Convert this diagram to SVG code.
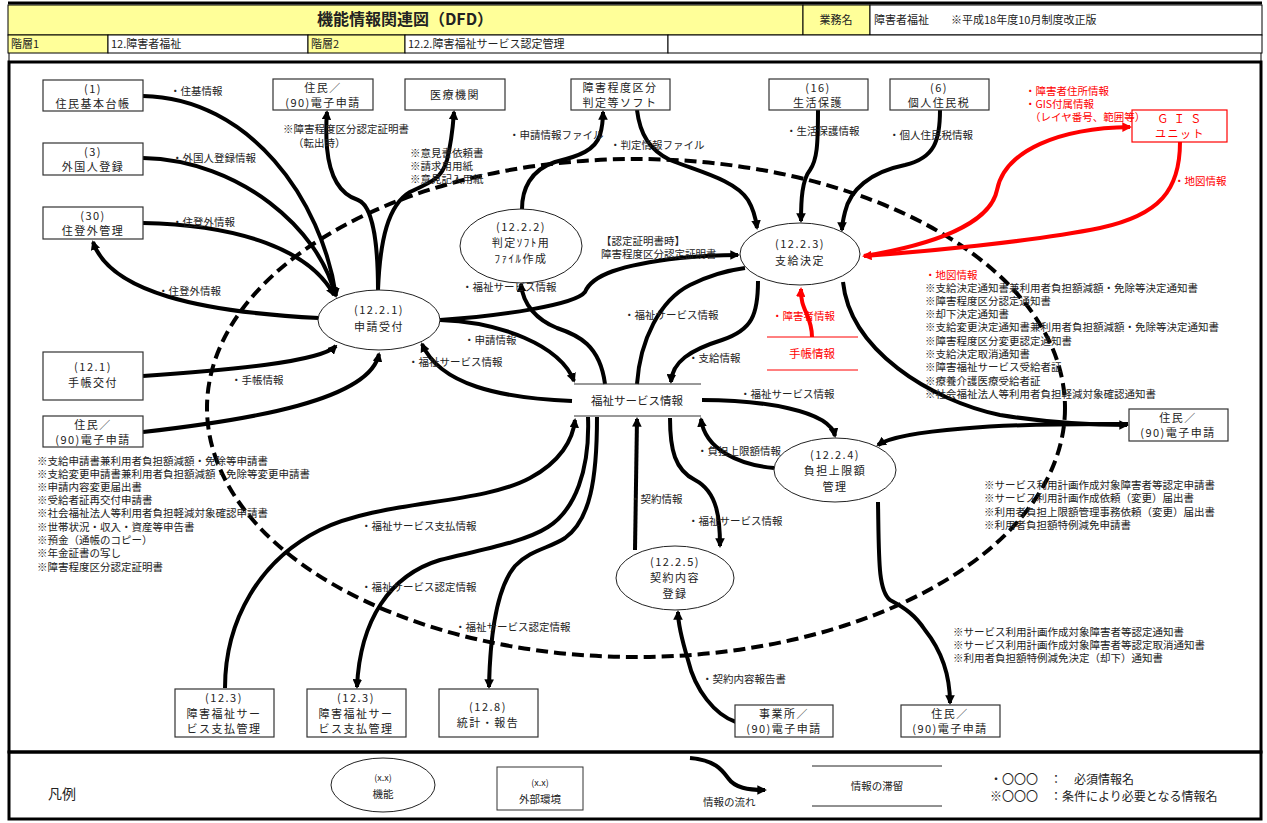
<svg xmlns="http://www.w3.org/2000/svg" width="1267" height="823" viewBox="0 0 1267 823">
<style>
text{font-family:"Noto Sans CJK JP","Noto Sans",sans-serif;fill:#222}
.nb rect{fill:#fff;stroke:#333;stroke-width:1.2}
.nb text,.ne text{font-size:11px;text-anchor:middle;letter-spacing:1.5px}
.ne ellipse{fill:#fff;stroke:#222;stroke-width:1}
.lb{font-size:10.5px}
.red{fill:#f00}
.f{fill:none;stroke:#000;stroke-width:4;marker-end:url(#a)}
.fn{fill:none;stroke:#000;stroke-width:4}
.fr{fill:none;stroke:#f00;stroke-width:4;marker-end:url(#ar)}
.hd{stroke:#000;stroke-width:1}
</style>
<defs>
<marker id="a" viewBox="0 0 10 10" refX="8" refY="5" markerWidth="2.4" markerHeight="2.4" orient="auto"><path d="M0,0 L10,5 L0,10 z" fill="#000"/></marker>
<marker id="ar" viewBox="0 0 10 10" refX="8" refY="5" markerWidth="2.4" markerHeight="2.4" orient="auto"><path d="M0,0 L10,5 L0,10 z" fill="#f00"/></marker>
</defs>
<rect x="0" y="0" width="1267" height="823" fill="#fff"/>
<!-- header -->
<g id="header">
<rect x="8" y="5" width="795" height="30" fill="#ffff99" class="hd"/>
<rect x="803" y="5" width="67" height="30" fill="#ffff99" class="hd"/>
<rect x="870" y="5" width="392" height="30" fill="#fff" class="hd"/>
<rect x="8" y="35" width="100" height="18" fill="#ffff99" class="hd"/>
<rect x="108" y="35" width="200" height="18" fill="#fff" class="hd"/>
<rect x="308" y="35" width="97" height="18" fill="#ffff99" class="hd"/>
<rect x="405" y="35" width="263" height="18" fill="#fff" class="hd"/>
<rect x="668" y="35" width="594" height="18" fill="#fff" class="hd"/>
<line x1="8" y1="3" x2="1262" y2="3" stroke="#000" stroke-width="3"/>
<text x="405" y="25" font-size="16" font-weight="bold" text-anchor="middle">機能情報関連図（DFD）</text>
<text x="836" y="24" font-size="11" text-anchor="middle">業務名</text>
<text x="874" y="24" font-size="11">障害者福祉　　※平成18年度10月制度改正版</text>
<text x="11" y="48" font-size="11">階層1</text>
<text x="111" y="48" font-size="11">12.障害者福祉</text>
<text x="311" y="48" font-size="11">階層2</text>
<text x="408" y="48" font-size="11">12.2.障害福祉サービス認定管理</text>
</g>
<!-- body frame -->
<rect x="9" y="62" width="1252" height="690" fill="none" stroke="#000" stroke-width="3"/>
<rect x="9" y="752" width="1252" height="67" fill="none" stroke="#000" stroke-width="3"/>
<line x1="9" y1="53" x2="9" y2="62" stroke="#000" stroke-width="1"/>
<line x1="1261" y1="53" x2="1261" y2="62" stroke="#000" stroke-width="1"/>

<!-- boundary -->
<ellipse cx="636" cy="408" rx="429" ry="249" fill="none" stroke="#000" stroke-width="4" stroke-dasharray="12 6"/>

<!-- connectors -->
<g id="connectors">
<path class="f" d="M143,96 C 250,98 322,200 336,296"/>
<path class="f" d="M143,158 C 240,160 320,230 335,295"/>
<path class="f" d="M143,223 C 240,225 310,250 334,295"/>
<path class="f" d="M319,318 C 200,312 110,292 93,242"/>
<path class="f" d="M378,290 C 378,240 372,205 358,200 C 342,195 330,180 327,148 C 326,135 326,124 327,112"/>
<path class="f" d="M378,290 C 380,240 388,205 410,192 C 432,182 442,178 447,160 C 452,140 453,125 454,112"/>
<path class="f" d="M522,209 C 522,190 530,170 555,162 C 580,156 595,150 600,135 C 602,128 603,120 603,112"/>
<path class="f" d="M637,110 C 640,135 650,150 670,160 C 700,172 735,180 748,200 C 754,210 756,220 757,228"/>
<path class="f" d="M818,110 C 818,145 817,160 810,170 C 802,180 801,200 801,221"/>
<path class="f" d="M940,110 C 940,140 935,158 905,165 C 870,172 850,190 845,212 C 843,220 842,226 842,230"/>
<path class="f" d="M440,320 C 500,316 575,305 585,292 C 592,275 620,265 680,258 C 700,256 718,255 738,255"/>
<path class="f" d="M440,320 C 500,322 560,345 574,381"/>
<path class="f" d="M572,401 C 500,398 440,385 422,344"/>
<path class="f" d="M605,384 C 600,345 578,335 557,328 C 537,320 523,305 521,284"/>
<path class="fn" d="M637,384 C 640,340 660,300 690,285 C 710,275 730,270 745,268"/>
<path class="f" d="M758,281 C 758,315 752,330 722,340 C 690,350 672,362 671,382"/>
<path class="f" d="M843,282 C 850,350 930,400 1000,415 C 1050,423 1100,425 1127,425"/>
<path class="f" d="M1128,424 C 1000,423 900,430 878,445"/>
<path class="f" d="M702,400 C 760,400 830,410 835,436"/>
<path class="f" d="M774,468 C 740,465 705,450 701,419"/>
<path class="f" d="M670,418 C 670,450 675,470 695,480 C 718,492 720,520 720,546"/>
<path class="f" d="M635,550 L637,419"/>
<path class="f" d="M878,502 C 879,560 878,590 890,600 C 905,608 915,615 925,630 C 945,655 950,680 950,703"/>
<path class="f" d="M736,722 C 715,715 695,690 688,660 C 682,640 678,625 678,612"/>
<path class="f" d="M225,688 C 225,620 260,560 320,530 C 380,500 480,505 530,478 C 560,462 573,440 575,420"/>
<path class="f" d="M588,417 C 590,470 575,510 548,527 C 525,542 480,550 440,560 C 390,575 360,620 357,687"/>
<path class="f" d="M597,417 C 597,480 590,520 565,538 C 550,548 530,550 515,566 C 495,590 490,640 489,687"/>
<path class="f" d="M143,376 C 230,370 320,362 336,346"/>
<path class="f" d="M143,432 C 250,420 370,400 379,354"/>
<path class="fr" d="M864,256 C 930,245 990,225 997,190 C 1005,150 1060,128 1130,127"/>
<path class="fr" d="M1180,142 C 1180,190 1160,215 1100,228 C 1030,242 920,252 864,256"/>
<path class="fr" d="M812,337 C 812,315 800,310 801,289"/>
</g>

<!-- data stores -->
<g id="store-fukushi">
<line x1="574" y1="384" x2="701" y2="384" stroke="#333" stroke-width="1"/>
<line x1="574" y1="416" x2="701" y2="416" stroke="#333" stroke-width="1"/>
<rect x="590" y="392" width="95" height="16" fill="#fff"/>
<text x="637" y="405" font-size="11.5" text-anchor="middle">福祉サービス情報</text>
</g>
<g id="store-techo">
<line x1="767" y1="337" x2="858" y2="337" stroke="#f00" stroke-width="1"/>
<line x1="767" y1="370" x2="858" y2="370" stroke="#f00" stroke-width="1"/>
<text x="812" y="358" font-size="11.5" text-anchor="middle" class="red">手帳情報</text>
</g>

<!-- process nodes -->
<g id="p1221" class="ne"><ellipse cx="379" cy="320" rx="61" ry="30"/><text x="379" y="314">(12.2.1)</text><text x="379" y="331">申請受付</text></g>
<g id="p1222" class="ne"><ellipse cx="521" cy="246" rx="61" ry="37"/><text x="521" y="231">(12.2.2)</text><text x="521" y="247">判定ｿﾌﾄ用</text><text x="521" y="263">ﾌｧｲﾙ作成</text></g>
<g id="p1223" class="ne"><ellipse cx="800" cy="254" rx="60" ry="31"/><text x="800" y="248">(12.2.3)</text><text x="800" y="265">支給決定</text></g>
<g id="p1224" class="ne"><ellipse cx="835" cy="470" rx="61" ry="32"/><text x="835" y="459">(12.2.4)</text><text x="835" y="475">負担上限額</text><text x="835" y="491">管理</text></g>
<g id="p1225" class="ne"><ellipse cx="675" cy="578" rx="59" ry="32"/><text x="675" y="566">(12.2.5)</text><text x="675" y="582">契約内容</text><text x="675" y="598">登録</text></g>

<!-- external nodes -->
<g id="e1" class="nb"><rect x="43" y="80" width="100" height="31"/><text x="93" y="92.5">(1)</text><text x="93" y="107.5">住民基本台帳</text></g>
<g id="e3" class="nb"><rect x="43" y="143" width="100" height="32"/><text x="93" y="156">(3)</text><text x="93" y="171">外国人登録</text></g>
<g id="e30" class="nb"><rect x="43" y="207" width="100" height="32"/><text x="93" y="220">(30)</text><text x="93" y="235">住登外管理</text></g>
<g id="eJ1" class="nb"><rect x="273" y="79" width="100" height="31"/><text x="323" y="91.5">住民／</text><text x="323" y="106.5">(90)電子申請</text></g>
<g id="eIryo" class="nb"><rect x="405" y="79" width="100" height="31"/><text x="455" y="99">医療機関</text></g>
<g id="eSoft" class="nb"><rect x="571" y="79" width="99" height="31"/><text x="620" y="91.5">障害程度区分</text><text x="620" y="106.5">判定等ソフト</text></g>
<g id="e16" class="nb"><rect x="769" y="79" width="99" height="31"/><text x="818" y="91.5">(16)</text><text x="818" y="106.5">生活保護</text></g>
<g id="e6" class="nb"><rect x="890" y="79" width="99" height="31"/><text x="939" y="91.5">(6)</text><text x="939" y="106.5">個人住民税</text></g>
<g id="eGIS"><rect x="1132" y="110" width="95" height="32" fill="#fff" stroke="#f00" stroke-width="1.2"/><text x="1180" y="123" font-size="11" text-anchor="middle" class="red" letter-spacing="1.5">Ｇ Ｉ Ｓ</text><text x="1180" y="138" font-size="11" text-anchor="middle" class="red" letter-spacing="1.5">ユニット</text></g>
<g id="e121" class="nb"><rect x="43" y="352" width="100" height="48"/><text x="93" y="371">(12.1)</text><text x="93" y="387">手帳交付</text></g>
<g id="eJ2" class="nb"><rect x="43" y="416" width="100" height="31"/><text x="93" y="428.5">住民／</text><text x="93" y="443.5">(90)電子申請</text></g>
<g id="eJ3" class="nb"><rect x="1129" y="409" width="99" height="32"/><text x="1178" y="422">住民／</text><text x="1178" y="437">(90)電子申請</text></g>
<g id="e123a" class="nb"><rect x="175" y="689" width="99" height="48"/><text x="224" y="702">(12.3)</text><text x="224" y="717.5">障害福祉サー</text><text x="224" y="733">ビス支払管理</text></g>
<g id="e123b" class="nb"><rect x="307" y="689" width="99" height="48"/><text x="356" y="702">(12.3)</text><text x="356" y="717.5">障害福祉サー</text><text x="356" y="733">ビス支払管理</text></g>
<g id="e128" class="nb"><rect x="439" y="689" width="99" height="48"/><text x="488" y="711">(12.8)</text><text x="488" y="727">統計・報告</text></g>
<g id="eJigyo" class="nb"><rect x="735" y="705" width="98" height="32"/><text x="784" y="718">事業所／</text><text x="784" y="733">(90)電子申請</text></g>
<g id="eJ4" class="nb"><rect x="901" y="705" width="99" height="32"/><text x="950" y="718">住民／</text><text x="950" y="733">(90)電子申請</text></g>

<!-- labels -->
<g id="labels" class="lb">
<text x="170" y="95">・住基情報</text>
<text x="172" y="162">・外国人登録情報</text>
<text x="172" y="226">・住登外情報</text>
<text x="158" y="295">・住登外情報</text>
<text x="283" y="133">※障害程度区分認定証明書</text>
<text x="293" y="147">（転出時）</text>
<text x="410" y="157">※意見書依頼書</text>
<text x="410" y="170">※請求用用紙</text>
<text x="410" y="183">※意見記入用紙</text>
<text x="509" y="139">・申請情報ファイル</text>
<text x="610" y="149">・判定情報ファイル</text>
<text x="786" y="135">・生活保護情報</text>
<text x="889" y="139">・個人住民税情報</text>
<text x="1025" y="95" class="red">・障害者住所情報</text>
<text x="1025" y="108" class="red">・GIS付属情報</text>
<text x="1030" y="121" class="red">（レイヤ番号、範囲等）</text>
<text x="1174" y="185" class="red">・地図情報</text>
<text x="601" y="245">【認定証明書時】</text>
<text x="601" y="258">障害程度区分認定証明書</text>
<text x="462" y="291">・福祉サービス情報</text>
<text x="624" y="319">・福祉サービス情報</text>
<text x="464" y="344">・申請情報</text>
<text x="408" y="366">・福祉サービス情報</text>
<text x="688" y="362">・支給情報</text>
<text x="772" y="320" class="red">・障害者情報</text>
<text x="740" y="398">・福祉サービス情報</text>
<text x="697" y="455">・負担上限額情報</text>
<text x="630" y="503">・契約情報</text>
<text x="688" y="525">・福祉サービス情報</text>
<text x="231" y="384">・手帳情報</text>
<text x="361" y="530">・福祉サービス支払情報</text>
<text x="361" y="591">・福祉サービス認定情報</text>
<text x="455" y="631">・福祉サービス認定情報</text>
<text x="702" y="683">・契約内容報告書</text>
<text x="925" y="279" class="red">・地図情報</text>
<text x="925" y="292">※支給決定通知書兼利用者負担額減額・免除等決定通知書</text>
<text x="925" y="305">※障害程度区分認定通知書</text>
<text x="925" y="318">※却下決定通知書</text>
<text x="925" y="331">※支給変更決定通知書兼利用者負担額減額・免除等決定通知書</text>
<text x="925" y="345">※障害程度区分変更認定通知書</text>
<text x="925" y="358">※支給決定取消通知書</text>
<text x="925" y="371">※障害福祉サービス受給者証</text>
<text x="925" y="385">※療養介護医療受給者証</text>
<text x="925" y="398">※社会福祉法人等利用者負担軽減対象確認通知書</text>
<text x="984" y="489">※サービス利用計画作成対象障害者等認定申請書</text>
<text x="984" y="502">※サービス利用計画作成依頼（変更）届出書</text>
<text x="984" y="516">※利用者負担上限額管理事務依頼（変更）届出書</text>
<text x="984" y="529">※利用者負担額特例減免申請書</text>
<text x="953" y="636">※サービス利用計画作成対象障害者等認定通知書</text>
<text x="953" y="649">※サービス利用計画作成対象障害者等認定取消通知書</text>
<text x="953" y="662">※利用者負担額特例減免決定（却下）通知書</text>
<text x="37" y="465">※支給申請書兼利用者負担額減額・免除等申請書</text>
<text x="37" y="478">※支給変更申請書兼利用者負担額減額・免除等変更申請書</text>
<text x="37" y="491">※申請内容変更届出書</text>
<text x="37" y="504">※受給者証再交付申請書</text>
<text x="37" y="517">※社会福祉法人等利用者負担軽減対象確認申請書</text>
<text x="37" y="531">※世帯状況・収入・資産等申告書</text>
<text x="37" y="544">※預金（通帳のコピー）</text>
<text x="37" y="557">※年金証書の写し</text>
<text x="37" y="571">※障害程度区分認定証明書</text>
</g>

<!-- legend -->
<g id="legend">
<text x="48" y="799" font-size="14">凡例</text>
<ellipse cx="383" cy="785" rx="52" ry="27" fill="#fff" stroke="#222" stroke-width="1"/>
<text x="383" y="781" font-size="9" text-anchor="middle">(x.x)</text>
<text x="383" y="798" font-size="10.5" text-anchor="middle">機能</text>
<rect x="497" y="767" width="86" height="43" fill="#fff" stroke="#333" stroke-width="1"/>
<text x="540" y="786" font-size="9" text-anchor="middle">(x.x)</text>
<text x="540" y="803" font-size="10.5" text-anchor="middle">外部環境</text>
<path class="f" d="M690,758 C 715,760 722,770 728,778 C 735,788 748,790 765,790"/>
<text x="703" y="806" font-size="10.5">情報の流れ</text>
<line x1="812" y1="766" x2="942" y2="766" stroke="#222" stroke-width="1"/>
<line x1="812" y1="806" x2="942" y2="806" stroke="#222" stroke-width="1"/>
<text x="877" y="790" font-size="10.5" text-anchor="middle">情報の滞留</text>
<text x="990" y="784" font-size="12">・〇〇〇　：　必須情報名</text>
<text x="990" y="801" font-size="12">※〇〇〇　：条件により必要となる情報名</text>
</g>
</svg>
